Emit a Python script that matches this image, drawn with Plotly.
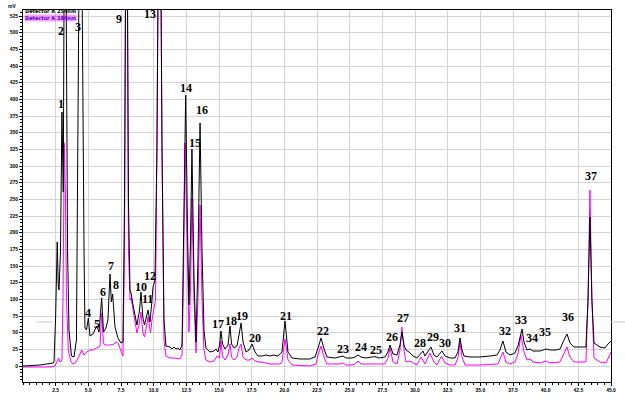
import plotly.graph_objects as go

# retention time (min) / signal (mV)
black_time = [0.00, 1.30, 2.30, 2.37, 2.49, 2.62, 2.70, 2.76, 2.87, 2.98, 3.08, 3.21, 3.41, 3.52, 3.71, 3.90,
              4.09, 4.40, 4.67, 4.74, 4.86, 5.00, 5.13, 5.36, 5.64, 5.82, 6.02, 6.16, 6.35, 6.50, 6.66, 6.76,
              6.86, 7.04, 7.27, 7.50, 7.65, 7.77, 7.92, 8.07, 8.19, 8.27, 8.42, 8.72, 8.92, 9.03, 9.18, 9.30,
              9.57, 9.72, 9.87, 9.95, 10.10, 10.25, 10.45, 10.64, 10.79, 10.94, 11.25, 11.40, 11.56, 11.71,
              11.86, 12.01, 12.17, 12.28, 12.45, 12.59, 12.70, 12.82, 12.93, 13.09, 13.24, 13.39, 13.55, 13.70,
              13.85, 14.00, 14.31, 14.62, 14.77, 14.92, 15.04, 15.15, 15.27, 15.46, 15.69, 15.84, 15.96, 16.15,
              16.38, 16.53, 16.69, 16.84, 17.07, 17.30, 17.53, 17.76, 17.98, 18.29, 18.60, 18.90, 19.21, 19.51,
              19.82, 20.05, 20.28, 20.59, 21.20, 21.96, 22.35, 22.58, 22.81, 23.04, 23.26, 23.88, 24.26, 24.49,
              24.72, 25.18, 25.41, 25.64, 25.87, 26.25, 26.71, 26.94, 27.24, 27.70, 27.93, 28.09, 28.32, 28.62,
              28.85, 29.00, 29.16, 29.31, 29.54, 29.85, 30.15, 30.61, 30.76, 31.22, 31.45, 31.68, 32.06, 32.30,
              32.68, 33.06, 33.29, 33.44, 33.60, 33.75, 34.21, 34.97, 35.74, 36.27, 36.50, 36.73, 36.96, 37.27,
              37.65, 37.88, 38.19, 38.34, 38.57, 38.80, 39.03, 39.57, 40.03, 40.33, 40.79, 41.10, 41.33, 41.63,
              41.86, 42.17, 42.63, 43.08, 43.24, 43.39, 43.54, 43.70, 44.16, 44.54, 44.77, 45.00]
black_mv = [0, 1.5, 4.5, 6, 69, 186, 121.5, 114, 174, 381, 261, 900, 174, 54, 15, 13.5,
            39, 900, 174, 57, 54, 72, 45, 48, 60, 51, 102, 51, 57, 69, 138, 96,
            108, 58.5, 42, 34.5, 36, 249, 900, 249, 114, 109.5, 91.5, 61.5, 84, 111, 72, 61.5,
            84, 66, 99, 118.5, 129, 324, 900, 324, 69, 30, 28.5, 25.5, 28.5, 25.5,
            27, 24, 31.5, 174, 406.5, 204, 91.5, 189, 325.5, 129, 36, 159, 364.5, 174,
            54, 27, 21, 22.5, 25.5, 21, 31.5, 52.5, 33, 25.5, 31.5, 60, 33, 27,
            30, 46.5, 64.5, 36, 21, 24, 33, 21, 15, 15, 16.5, 15, 16.5, 15,
            21, 67.5, 21, 12, 10.5, 10.5, 13.5, 27, 42, 25.5, 13.5, 12, 13.5, 15,
            12, 12, 13.5, 16.5, 13.5, 12, 13.5, 14, 12, 13.5, 21, 31.5, 18, 16.5,
            31.5, 51, 31.5, 24, 21, 15, 12, 22.5, 15, 28.5, 16.5, 13.5, 22.5, 15,
            12, 12, 21, 42, 24, 15, 13.5, 13.5, 15, 16.5, 24, 37.5, 21, 16.5,
            19.5, 30, 55.5, 36, 24, 25.5, 22.5, 22.5, 25.5, 24, 24, 25.5, 36, 48,
            34.5, 28.5, 28.5, 28.5, 99, 223.5, 99, 34.5, 28.5, 27, 33, 37.5]

magenta_time = [0.00, 2.07, 2.45, 2.60, 2.72, 2.83, 2.98, 3.06, 3.16, 3.25, 3.33, 3.47, 3.67, 3.83, 4.06, 4.29,
                4.49, 4.67, 4.88, 5.13, 5.36, 5.64, 5.90, 6.02, 6.16, 6.27, 6.66, 6.97, 7.12, 7.27, 7.50, 7.65,
                7.77, 7.92, 8.07, 8.19, 8.27, 8.42, 8.72, 8.88, 9.03, 9.18, 9.30, 9.57, 9.76, 9.87, 10.02, 10.14,
                10.25, 10.45, 10.64, 10.79, 10.94, 11.25, 11.63, 12.01, 12.17, 12.28, 12.40, 12.59, 12.70, 12.82,
                12.93, 13.09, 13.24, 13.39, 13.55, 13.70, 13.85, 14.00, 14.31, 14.62, 14.85, 15.04, 15.15, 15.27,
                15.46, 15.69, 15.84, 15.96, 16.15, 16.38, 16.53, 16.69, 16.84, 17.07, 17.38, 17.53, 17.76, 17.98,
                18.29, 18.90, 19.67, 19.82, 20.05, 20.28, 20.59, 21.96, 22.43, 22.58, 22.81, 23.04, 23.26, 24.26,
                24.49, 24.72, 25.18, 25.41, 25.64, 25.87, 26.94, 27.70, 27.93, 28.09, 28.32, 28.62, 28.85, 29.00,
                29.16, 29.31, 29.62, 30.15, 30.46, 30.76, 31.14, 31.45, 31.68, 32.03, 32.30, 32.68, 33.06, 33.29,
                33.44, 33.60, 33.83, 34.97, 36.35, 36.58, 36.73, 36.96, 37.27, 37.65, 37.88, 38.11, 38.34, 38.57,
                38.80, 39.03, 39.57, 40.03, 40.33, 41.10, 41.33, 41.63, 41.86, 42.17, 43.08, 43.24, 43.39, 43.54,
                43.70, 44.16, 44.62, 44.85, 45.00]
magenta_mv = [-1.5, -1.5, 0, 6, 12, 6, 9, 99, 334.5, 249, 99, 24, 6, 3, 6, 15,
              24, 16.5, 21, 24, 24, 27, 30, 79.5, 34.5, 31.5, 31.5, 33, 36, 34.5, 21, 15,
              174, 900, 174, 99, 102, 84, 49.5, 61.5, 81, 49.5, 43.5, 73.5, 49.5, 69, 88.5, 99,
              324, 900, 324, 39, 15, 12, 12, 10.5, 16.5, 129, 334.5, 129, 51, 114,
              252, 99, 19.5, 99, 241.5, 99, 24, 9, 6, 7.5, 15, 12, 37.5, 15,
              9, 16.5, 33, 13.5, 9, 13.5, 27, 33, 13.5, 9, 9, 12, 7.5, 6,
              6, 3, 3, 6, 40.5, 9, 1.5, 0, 3, 16.5, 30, 13.5, 3, 3,
              4.5, 1.5, 1.5, 3, 7.5, 3, 3, 3, 12, 27, 6, 3, 24, 58.5,
              24, 6, 7.5, 1.5, 13.5, 3, 19.5, 6, 1.5, 15, 4.5, 1.5, 1.5, 12,
              35, 13.5, 1.5, 1.5, 3, 13.5, 21, 6, 3, 6, 18, 46.5, 21, 9,
              10.5, 6, 4.5, 7.5, 4.5, 6, 16.5, 28.5, 13.5, 6, 6, 99, 264, 99,
              12, 6, 4.5, 15, 21]

# peak numbers and where their labels sit
peak_names = [str(n) for n in range(1, 38)]
label_time = [2.91, 2.91, 4.21, 5.00, 5.64, 6.10, 6.71, 7.09, 7.35, 9.05, 9.54, 9.72, 9.72, 12.47, 13.16,
              13.70, 14.95, 15.90, 16.74, 17.75, 20.13, 22.94, 24.47, 25.87, 27.02, 28.22, 29.06, 30.38,
              31.35, 32.30, 33.44, 36.89, 38.11, 38.93, 39.95, 41.69, 43.47]
label_mv = [393, 503, 508.5, 79.5, 63, 111, 150, 121.5, 520.5, 118.5, 100.5, 135, 528, 417, 334.5,
            384, 63, 67.5, 75, 42, 75, 52.5, 25.5, 28.5, 24, 43.5, 72, 34.5,
            43.5, 34.5, 57, 52.5, 69, 42, 51, 73.5, 285]

x_ticks = [2.5, 5.0, 7.5, 10.0, 12.5, 15.0, 17.5, 20.0, 22.5, 25.0, 27.5, 30.0, 32.5, 35.0, 37.5, 40.0, 42.5, 45.0]
series_names = ['Detector A 254nm', 'Detector A 280nm']

fig = go.Figure()
fig.add_trace(go.Scatter(x=magenta_time, y=magenta_mv, mode='lines', name=series_names[1],
                         line=dict(color='#ff00ff', width=1)))
fig.add_trace(go.Scatter(x=black_time, y=black_mv, mode='lines', name=series_names[0],
                         line=dict(color='#000000', width=1)))

for name, t, v in zip(peak_names, label_time, label_mv):
    fig.add_annotation(x=t, y=v, text=name, showarrow=False,
                       font=dict(family='Liberation Serif', size=12, color='black', weight='bold'))

# little legend block in the corner
fig.add_annotation(x=0.002, y=0.9973, xref='paper', yref='paper', xanchor='left', yanchor='middle',
                   text=series_names[0], showarrow=False, borderpad=0,
                   font=dict(family='DejaVu Sans', size=5, color='black', weight='bold'))
fig.add_annotation(x=0.002, y=0.9798, xref='paper', yref='paper', xanchor='left', yanchor='middle',
                   text=series_names[1], showarrow=False, borderpad=0, bgcolor='rgba(255,0,255,0.35)',
                   font=dict(family='DejaVu Sans', size=5, color='#5000d0', weight='bold'))
fig.add_annotation(x=-0.01, y=1.0, xref='paper', yref='paper', xanchor='right', yanchor='bottom',
                   text='mV', showarrow=False, borderpad=0,
                   font=dict(family='Liberation Sans', size=5, color='black', weight='bold'))

# stray cursor line
fig.add_shape(type='line', xref='x', yref='y', x0=1.0, x1=2.3, y0=66, y1=66,
              line=dict(color='#c8c8c8', width=1))
fig.add_shape(type='line', xref='paper', yref='y', x0=1.0, x1=1.03, y0=66, y1=66,
              line=dict(color='#c8c8c8', width=1))

fig.update_layout(
    width=625, height=409,
    margin=dict(l=23, r=14, t=10, b=27),
    paper_bgcolor='white', plot_bgcolor='white',
    showlegend=False,
    font=dict(family='Liberation Sans'),
)
fig.update_xaxes(range=[0, 45], tickvals=x_ticks, ticktext=[f'{v:.1f}' for v in x_ticks],
                 automargin=False,
                 showgrid=True, gridcolor='#d4d4d4', gridwidth=1, zeroline=False,
                 showline=True, linecolor='black', linewidth=1, mirror=True,
                 ticks='outside', ticklen=3, tickcolor='black',
                 minor=dict(dtick=0.5, ticks='outside', ticklen=2, tickcolor='black', showgrid=False),
                 tickfont=dict(size=5, color='black', weight='bold'))
fig.update_yaxes(range=[-24, 534], dtick=25, tick0=0,
                 automargin=False,
                 showgrid=True, gridcolor='#d4d4d4', gridwidth=1, zeroline=False,
                 showline=True, linecolor='black', linewidth=1, mirror=True,
                 ticks='outside', ticklen=3, tickcolor='black',
                 minor=dict(dtick=5, ticks='outside', ticklen=2, tickcolor='black', showgrid=False),
                 tickfont=dict(size=5, color='black', weight='bold'))

# the page has a default 8px body margin; drop it so the figure sits at the window corner
fig.write_html('out.html', config={'displayModeBar': False},
               post_script="document.body.style.margin='0';")
